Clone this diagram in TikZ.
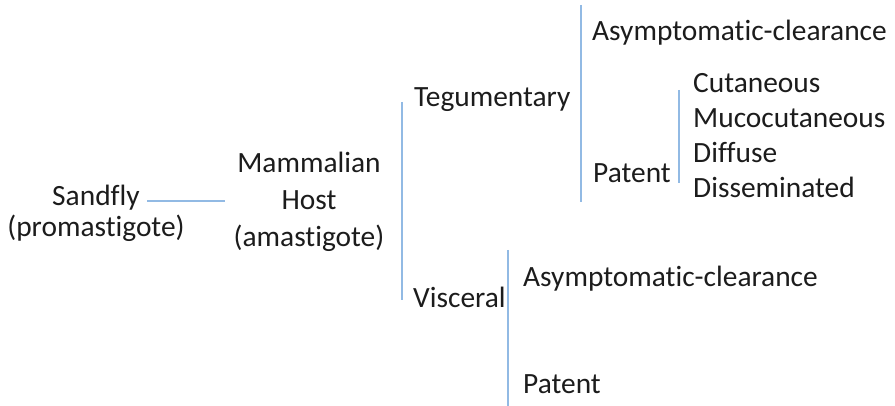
\documentclass[tikz,border=0pt]{standalone}
\usepackage{fontspec}
\setmainfont{Carlito}[Ligatures=CommonOff]
\usepackage{tikz}
\usetikzlibrary{positioning}
\definecolor{linkBlue}{RGB}{146, 186, 228}
\definecolor{inkGray}{RGB}{28, 28, 28}

\begin{document}
\begin{tikzpicture}[
    x=1pt, y=-1pt,
    lbl/.style={inner sep=0pt, anchor=base west, text=inkGray,
                font=\fontsize{29.4}{35}\selectfont},
    stack/.style={lbl, anchor=base, align=center},
    link/.style={draw=linkBlue, line width=1.8pt},
  ]
    \useasboundingbox (0,0) rectangle (895,406);

    % Vector and host (base = last line)
    \node[stack, font=\fontsize{29.4}{32}\selectfont] (FLY) at (96,237)
      {Sandfly\\(promastigote)};
    \node[stack, font=\fontsize{29.4}{37}\selectfont] (HOST) at (309,247)
      {Mammalian\\Host\\(amastigote)};

    % Forms of disease
    \node[lbl] (TEG) at (414,107) {Tegumentary};
    \node[lbl] (VIS) at (413,308) {Visceral};

    % Tegumentary outcomes
    \node[lbl] (TEG_ASYM) at (592,41) {Asymptomatic-clearance};
    \node[lbl] (TEG_PAT) at (593,183) {Patent};
    \node[lbl] (CUT) at (693,93) {Cutaneous};
    \node[lbl] (MUCO) at ([yshift=-35pt]CUT.base west) {Mucocutaneous};
    \node[lbl] (DIFF) at ([yshift=-35pt]MUCO.base west) {Diffuse};
    \node[lbl] (DISS) at ([yshift=-35pt]DIFF.base west) {Disseminated};

    % Visceral outcomes
    \node[lbl] (VIS_ASYM) at (523,287) {Asymptomatic-clearance};
    \node[lbl] (VIS_PAT) at (523,393) {Patent};

    % Bracket ends
    \coordinate (FLY_R) at (147,201);
    \coordinate (HOST_L) at (225,201);
    \coordinate (HOST_TOP) at (402,102);
    \coordinate (HOST_BOT) at (402,300);
    \coordinate (TEG_TOP) at (581,5);
    \coordinate (TEG_BOT) at (581,202);
    \coordinate (PAT_TOP) at (679,90);
    \coordinate (PAT_BOT) at (679,183);
    \coordinate (VIS_TOP) at (508,250);
    \coordinate (VIS_BOT) at (508,406);

    \draw[link] (FLY_R) -- (HOST_L);
    \draw[link] (HOST_TOP) -- (HOST_BOT);
    \draw[link] (TEG_TOP) -- (TEG_BOT);
    \draw[link] (PAT_TOP) -- (PAT_BOT);
    \draw[link] (VIS_TOP) -- (VIS_BOT);
  \end{tikzpicture}
\end{document}
